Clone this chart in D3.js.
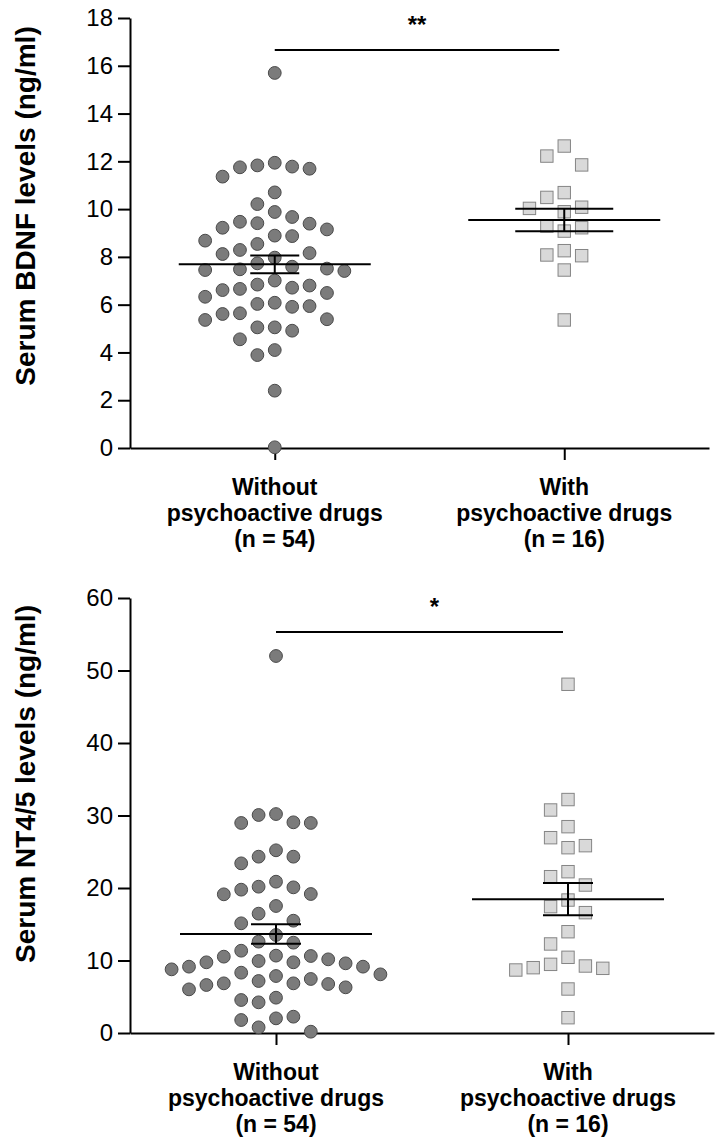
<!DOCTYPE html>
<html><head><meta charset="utf-8">
<script src="https://cdn.jsdelivr.net/npm/d3@7"></script>
<style>
body{margin:0;background:#fff}
svg text{font-family:"Liberation Sans",Arial,Helvetica,sans-serif;fill:#000}
</style>
</head><body>
<svg id="chart" width="720" height="1141"></svg>
<script>
// ---------- data ----------
const categories = ["Without", "With"];
const categoryLabels = [
  ["Without", "psychoactive drugs", "(n = 54)"],
  ["With", "psychoactive drugs", "(n = 16)"]
];
const bdnfWithout = [15.7, 11.94, 11.78, 11.69, 11.75, 11.83, 11.36, 10.70, 10.21, 9.88, 9.67, 9.22, 9.47, 9.39, 9.41, 9.15, 8.89, 8.68, 8.87, 8.54, 8.16, 8.12, 8.29, 7.97, 7.59, 7.73, 7.45, 7.41, 7.48, 7.51, 7.01, 6.84, 6.80, 6.71, 6.61, 6.49, 6.66, 6.33, 6.03, 5.91, 5.94, 6.08, 5.64, 5.61, 5.39, 5.05, 4.55, 4.91, 5.05, 5.36, 3.89, 4.10, 2.40, 0.03];
const bdnfWith = [12.64, 12.22, 11.85, 10.69, 10.49, 10.08, 10.03, 9.89, 9.29, 9.22, 9.08, 8.26, 8.08, 8.05, 7.45, 5.36];
const nt45Without = [52.0, 30.2, 29.06, 28.97, 28.97, 30.07, 25.2, 24.32, 23.4, 24.32, 20.87, 19.17, 20.09, 19.77, 20.18, 19.13, 17.52, 16.46, 15.49, 15.13, 13.52, 12.46, 12.6, 11.35, 10.67, 10.53, 10.16, 9.93, 10.62, 9.75, 9.61, 9.15, 9.75, 9.15, 8.78, 8.32, 7.86, 7.17, 7.45, 8.09, 6.85, 6.62, 6.02, 6.30, 6.76, 6.85, 4.55, 4.23, 4.87, 2.25, 1.79, 2.02, 0.78, 0.18];
const nt45With = [48.1, 32.2, 30.76, 28.46, 26.94, 25.56, 25.84, 22.25, 21.56, 20.41, 18.34, 17.43, 16.6, 13.97, 12.28, 10.44, 9.24, 8.69, 8.92, 9.01, 9.47, 6.07, 2.11];
const bdnfTicks = [0, 2, 4, 6, 8, 10, 12, 14, 16, 18];
const nt45Ticks = [0, 10, 20, 30, 40, 50, 60];
const bdnfTitle = "Serum BDNF levels (ng/ml)";
const nt45Title = "Serum NT4/5 levels (ng/ml)";
const bdnfSig = "**";
const nt45Sig = "*";

// ---------- drawing ----------
const svg = d3.select("#chart");
const R = 6.4, SQ = 12.4, COL = 17.4;

function swarm(values, y) {
  const pts = values.map((v, i) => ({v, i, py: y(v)}))
    .sort((a, b) => b.v - a.v);
  const placed = [];
  const minDy = 19;
  pts.forEach(p => {
    for (let k = 0; k < 30; k++) {
      const off = k === 0 ? 0 : (k % 2 ? -Math.ceil(k / 2) : Math.ceil(k / 2));
      const clash = placed.some(q => q.off === off && Math.abs(q.py - p.py) < minDy);
      if (!clash) { p.off = off; placed.push(p); break; }
    }
  });
  return pts;
}

function panel(cfg) {
  const g = svg.append("g");
  const y = d3.scaleLinear().domain(cfg.domain).range(cfg.yRange);
  const x = d3.scalePoint().domain(categories).range(cfg.xRange).padding(0.5);
  const axisY = cfg.yRange[0];

  // y axis
  const ya = g.append("g").attr("transform", `translate(${cfg.xRange[0]},0)`)
    .call(d3.axisLeft(y).tickValues(cfg.ticks).tickSize(12).tickSizeOuter(0).tickPadding(5));
  ya.selectAll("path,line").attr("stroke", "#000").attr("stroke-width", 2);
  ya.selectAll("text").attr("font-size", 24).attr("font-family", '"Liberation Sans",Arial,sans-serif').attr("fill", "#000");

  // x axis
  const xa = g.append("g").attr("transform", `translate(0,${axisY})`)
    .call(d3.axisBottom(x).tickSize(12).tickSizeOuter(0).tickFormat(""));
  xa.selectAll("path,line").attr("stroke", "#000").attr("stroke-width", 2);

  // category labels (one text per line)
  categories.forEach((c, ci) => {
    categoryLabels[ci].forEach((line, li) => {
      g.append("text").attr("text-anchor", "middle")
        .attr("font-size", 23).attr("font-weight", "bold")
        .attr("x", x(c)).attr("y", axisY + 47 + li * 25.8).text(line);
    });
  });

  // y title
  g.append("text")
    .attr("transform", `translate(${cfg.titleX},${cfg.titleY}) rotate(-90)`)
    .attr("text-anchor", "middle").attr("font-size", 28).attr("font-weight", "bold")
    .text(cfg.title);

  // points
  const sA = swarm(cfg.series[0], y);
  g.append("g").selectAll("circle").data(sA).join("circle")
    .attr("cx", d => x(categories[0]) + d.off * COL)
    .attr("cy", d => y(d.v)).attr("r", R)
    .attr("fill", "#7b7b7b").attr("stroke", "#4a4a4a").attr("stroke-width", 1);
  const sB = swarm(cfg.series[1], y);
  g.append("g").selectAll("rect").data(sB).join("rect")
    .attr("x", d => x(categories[1]) + d.off * COL - SQ / 2)
    .attr("y", d => y(d.v) - SQ / 2).attr("width", SQ).attr("height", SQ)
    .attr("fill", "#d9d9d9").attr("stroke", "#858585").attr("stroke-width", 1);

  // mean and SEM
  cfg.series.forEach((vals, si) => {
    const m = d3.mean(vals);
    const sem = d3.deviation(vals) / Math.sqrt(vals.length);
    const cx = x(categories[si]);
    const hw = cfg.semHalf[si];
    const lg = g.append("g").attr("stroke", "#000").attr("stroke-width", 2);
    lg.append("line").attr("x1", cx - 96).attr("x2", cx + 96).attr("y1", y(m)).attr("y2", y(m));
    lg.append("line").attr("x1", cx - hw).attr("x2", cx + hw).attr("y1", y(m + sem)).attr("y2", y(m + sem));
    lg.append("line").attr("x1", cx - hw).attr("x2", cx + hw).attr("y1", y(m - sem)).attr("y2", y(m - sem));
    lg.append("line").attr("x1", cx).attr("x2", cx).attr("y1", y(m + sem)).attr("y2", y(m - sem));
  });

  // significance bar
  const x1 = x(categories[0]), x2 = x(categories[1]) - 5;
  g.append("line").attr("x1", x1).attr("x2", x2)
    .attr("y1", y(cfg.sigLevel)).attr("y2", y(cfg.sigLevel))
    .attr("stroke", "#000").attr("stroke-width", 2);
  g.append("text").attr("x", (x1 + x2) / 2 + cfg.sigDx).attr("y", y(cfg.sigLevel) - 17)
    .attr("text-anchor", "middle").attr("font-size", 24).attr("font-weight", "bold")
    .text(cfg.sig);
}

panel({
  domain: [0, 18], yRange: [448, 18], xRange: [130, 709], ticks: bdnfTicks,
  series: [bdnfWithout, bdnfWith], title: bdnfTitle, titleX: 35, titleY: 206,
  semHalf: [24.5, 49], sigLevel: 16.66, sig: bdnfSig, sigDx: 0
});
panel({
  domain: [0, 60], yRange: [1033, 598], xRange: [130, 714], ticks: nt45Ticks,
  series: [nt45Without, nt45With], title: nt45Title, titleX: 35, titleY: 784,
  semHalf: [25, 25], sigLevel: 55.3, sig: nt45Sig, sigDx: 15
});
</script>
</body></html>
